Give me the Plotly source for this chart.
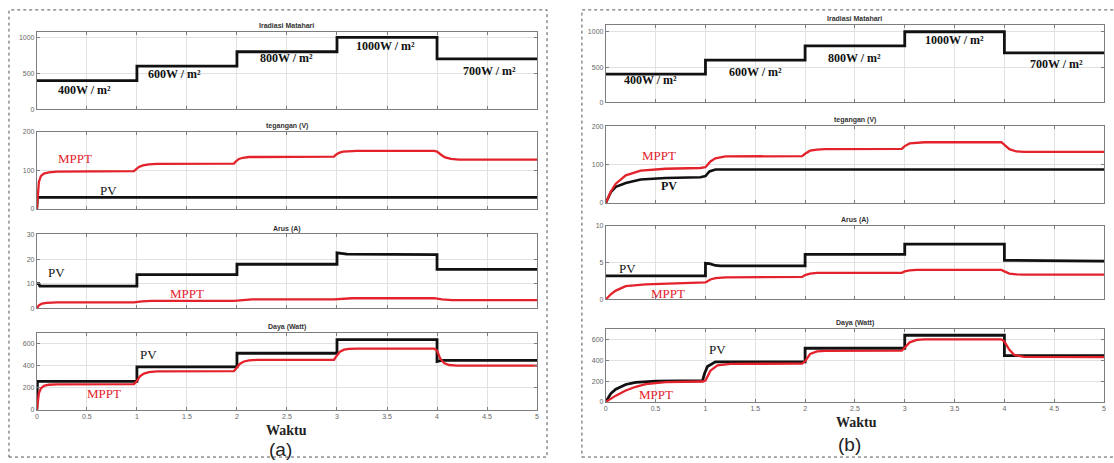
import plotly.graph_objects as go

W, H = 1114, 463

# ---------------- data ----------------
# Irradiance (same in both panels)
t_irr = [0, 1, 1, 2, 2, 3, 3, 4, 4, 5]
irr = [400, 400, 600, 600, 800, 800, 1000, 1000, 700, 700]
irr_labels = ["400W / m²", "600W / m²", "800W / m²", "1000W / m²", "700W / m²"]

# Panel (a)
a_v_mppt_t = [0, 0.01, 0.02, 0.04, 0.07, 0.12, 0.2, 0.97, 0.99, 1.02, 1.06, 1.12, 1.2,
              1.97, 1.99, 2.02, 2.06, 2.12, 2.2, 2.97, 2.99, 3.02, 3.06, 3.12, 3.2,
              3.97, 4.0, 4.04, 4.08, 4.14, 4.22, 5.0]
a_v_mppt = [0, 40, 70, 85, 92, 95, 97, 98, 103, 109, 113, 116, 117,
            118, 124, 130, 133, 135, 135, 136, 141, 146, 149, 150, 151,
            151, 149, 141, 134, 130, 128, 128]
a_v_pv_t = [0, 0.005, 5.0]
a_v_pv = [0, 30, 30]

a_i_pv_t = [0, 0.02, 0.03, 1, 1, 2, 2, 3, 3, 3.1, 4, 4, 5]
a_i_pv = [10, 10, 9, 9, 13.7, 13.7, 17.9, 17.9, 22.5, 22, 21.8, 15.8, 15.8]
a_i_mppt_t = [0, 0.02, 0.05, 0.1, 0.2, 0.97, 1.05, 1.15, 1.97, 2.05, 2.15, 2.97, 3.05,
              3.15, 3.97, 4.05, 4.15, 5.0]
a_i_mppt = [0, 1.2, 1.9, 2.2, 2.4, 2.4, 2.8, 3.0, 3.0, 3.4, 3.6, 3.6, 3.9,
            4.1, 4.1, 3.6, 3.3, 3.3]

a_p_pv_t = [0, 0.005, 1, 1, 2, 2, 3, 3, 4, 4, 4.05, 5]
a_p_pv = [0, 258, 258, 390, 390, 515, 515, 640, 640, 440, 450, 450]
a_p_mppt_t = [0, 0.01, 0.02, 0.04, 0.07, 0.12, 0.2, 0.97, 1.0, 1.03, 1.07, 1.12, 1.2,
              1.97, 2.0, 2.03, 2.07, 2.12, 2.2, 2.97, 3.0, 3.03, 3.07, 3.12, 3.2,
              3.97, 4.0, 4.03, 4.07, 4.12, 4.2, 5.0]
a_p_mppt = [0, 90, 150, 195, 218, 228, 232, 234, 262, 305, 330, 343, 350,
            352, 385, 420, 440, 450, 455, 456, 495, 530, 548, 555, 557,
            557, 540, 470, 425, 408, 402, 402]

# Panel (b)
b_v_mppt_t = [0, 0.05, 0.1, 0.2, 0.35, 0.6, 0.95, 1.0, 1.05, 1.1, 1.2, 1.97, 2.0, 2.05,
              2.12, 2.2, 2.97, 3.0, 3.05, 3.12, 3.2, 3.97, 4.0, 4.05, 4.12, 4.2, 5.0]
b_v_mppt = [0, 30, 50, 72, 84, 89, 91, 93, 108, 116, 121, 122, 128, 136,
            139, 140, 141, 148, 155, 157, 158, 158, 152, 140, 134, 133, 133]
b_v_pv_t = [0, 0.05, 0.1, 0.2, 0.35, 0.6, 0.95, 1.0, 1.04, 1.1, 5.0]
b_v_pv = [0, 28, 42, 52, 61, 65, 67, 70, 82, 87, 87]

b_i_pv_t = [0, 1, 1, 1.04, 1.1, 1.15, 2, 2, 3, 3, 4, 4, 5]
b_i_pv = [3.2, 3.2, 4.9, 4.85, 4.6, 4.55, 4.55, 6.1, 6.1, 7.5, 7.5, 5.3, 5.2]
b_i_mppt_t = [0, 0.05, 0.1, 0.2, 0.4, 0.95, 1.0, 1.05, 1.1, 1.2, 1.97, 2.0, 2.05, 2.12,
              2.97, 3.0, 3.05, 3.12, 3.97, 4.0, 4.05, 4.12, 4.2, 5.0]
b_i_mppt = [0, 0.7, 1.2, 1.8, 2.05, 2.2, 2.3, 2.7, 2.9, 3.0, 3.05, 3.3, 3.5, 3.6,
            3.6, 3.8, 3.95, 4.0, 4.0, 3.8, 3.5, 3.4, 3.35, 3.35]

b_p_pv_t = [0, 0.05, 0.1, 0.2, 0.3, 0.5, 0.97, 0.99, 1.02, 1.1, 2, 2, 3, 3, 4, 4, 4.05, 5]
b_p_pv = [0, 80, 121, 167, 188, 200, 203, 270, 340, 385, 385, 515, 515, 640, 640, 445, 445, 445]
b_p_mppt_t = [0, 0.1, 0.2, 0.3, 0.4, 0.6, 0.97, 1.0, 1.05, 1.12, 1.25, 1.97, 2.0, 2.05,
              2.12, 2.2, 2.97, 3.0, 3.05, 3.12, 3.2, 3.97, 4.0, 4.05, 4.1, 4.2, 5.0]
b_p_mppt = [0, 60, 110, 145, 170, 190, 196, 205, 300, 350, 365, 368, 390, 460,
            485, 490, 492, 520, 572, 595, 600, 600, 580, 500, 450, 432, 430]

# ---------------- layout geometry (pixels) ----------------
panels = {
    "a": dict(x=(35, 537), rows=[(28, 107), (130, 208), (234, 309), (334, 412)]),
    "b": dict(x=(606, 1106), rows=[(21, 100), (124, 202), (225, 300), (330, 404)]),
}
yranges = {
    "a": [[0, 1080], [0, 200], [0, 30], [0, 700]],
    "b": [[0, 1100], [0, 200], [0, 10], [0, 700]],
}
ytickvals = {
    "a": [[0, 500, 1000], [0, 100, 200], [0, 10, 20, 30], [0, 200, 400, 600]],
    "b": [[0, 500, 1000], [0, 100, 200], [0, 5, 10], [0, 200, 400, 600]],
}
titles = ["Iradiasi Matahari", "tegangan (V)", "Arus (A)", "Daya (Watt)"]
xticks = [0, 0.5, 1, 1.5, 2, 2.5, 3, 3.5, 4, 4.5, 5]
xticktext = ["0", "0.5", "1", "1.5", "2", "2.5", "3", "3.5", "4", "4.5", "5"]

RED = "#e3222b"
BLACK = "#111111"
AX = "#7d7d7d"
GRID = "#e1e1e1"

fig = go.Figure()
layout = dict(width=W, height=H, autosize=False, margin=dict(l=0, r=0, t=0, b=0),
              paper_bgcolor="white", plot_bgcolor="white", showlegend=False)
annotations = []
shapes = []

series = {
    "a": [
        [(t_irr, irr, BLACK, 2.8)],
        [(a_v_pv_t, a_v_pv, BLACK, 2.6), (a_v_mppt_t, a_v_mppt, RED, 2.3)],
        [(a_i_pv_t, a_i_pv, BLACK, 2.8), (a_i_mppt_t, a_i_mppt, RED, 2.3)],
        [(a_p_pv_t, a_p_pv, BLACK, 2.8), (a_p_mppt_t, a_p_mppt, RED, 2.3)],
    ],
    "b": [
        [(t_irr, irr, BLACK, 2.8)],
        [(b_v_pv_t, b_v_pv, BLACK, 2.6), (b_v_mppt_t, b_v_mppt, RED, 2.3)],
        [(b_i_pv_t, b_i_pv, BLACK, 2.8), (b_i_mppt_t, b_i_mppt, RED, 2.3)],
        [(b_p_pv_t, b_p_pv, BLACK, 2.8), (b_p_mppt_t, b_p_mppt, RED, 2.3)],
    ],
}

# label positions (data coords); last flag = bold
labels = {
    "a": [
        [(0.48, 265, irr_labels[0], BLACK, True), (1.38, 495, irr_labels[1], BLACK, True),
         (2.5, 715, irr_labels[2], BLACK, True), (3.48, 885, irr_labels[3], BLACK, True),
         (4.52, 535, irr_labels[4], BLACK, True)],
        [(0.38, 130, "MPPT", RED, False), (0.72, 48, "PV", BLACK, False)],
        [(0.2, 14.5, "PV", BLACK, False), (1.5, 6.2, "MPPT", RED, False)],
        [(1.12, 500, "PV", BLACK, False), (0.67, 150, "MPPT", RED, False)],
    ],
    "b": [
        [(0.45, 320, irr_labels[0], BLACK, True), (1.5, 430, irr_labels[1], BLACK, True),
         (2.5, 625, irr_labels[2], BLACK, True), (3.5, 880, irr_labels[3], BLACK, True),
         (4.52, 540, irr_labels[4], BLACK, True)],
        [(0.53, 124, "MPPT", RED, False), (0.63, 44, "PV", BLACK, True)],
        [(0.22, 4.2, "PV", BLACK, False), (0.62, 0.8, "MPPT", RED, False)],
        [(1.12, 505, "PV", BLACK, False), (0.5, 75, "MPPT", RED, False)],
    ],
}

k = 0
for p in ["a", "b"]:
    xl, xr = panels[p]["x"]
    for r in range(4):
        k += 1
        top, bot = panels[p]["rows"][r]
        xname = "xaxis" if k == 1 else f"xaxis{k}"
        yname = "yaxis" if k == 1 else f"yaxis{k}"
        xref = "x" if k == 1 else f"x{k}"
        yref = "y" if k == 1 else f"y{k}"
        layout[xname] = dict(
            domain=[xl / W, xr / W], anchor=yref, range=[0, 5],
            tickvals=xticks, ticktext=xticktext, showticklabels=(r == 3),
            ticks="inside", ticklen=3, tickcolor=AX, showline=True, linecolor=AX,
            linewidth=1, mirror="ticks", showgrid=True, gridcolor=GRID, gridwidth=1,
            zeroline=False, tickfont=dict(family="Liberation Sans", size=7, color="#666"),
            fixedrange=True)
        layout[yname] = dict(
            domain=[1 - bot / H, 1 - top / H], anchor=xref, range=yranges[p][r],
            tickvals=ytickvals[p][r], ticks="inside", ticklen=3, tickcolor=AX,
            showline=True, linecolor=AX, linewidth=1, mirror="ticks", showgrid=True,
            gridcolor=GRID, gridwidth=1, zeroline=False,
            tickfont=dict(family="Liberation Sans", size=7, color="#666"), fixedrange=True)
        for (tx, ty, col, lw) in series[p][r]:
            fig.add_trace(go.Scatter(x=tx, y=ty, mode="lines", xaxis=xref, yaxis=yref,
                                     line=dict(color=col, width=lw), hoverinfo="skip"))
        # subplot title
        annotations.append(dict(text=titles[r], xref="paper", yref="paper",
                                x=(xl + xr) / 2 / W, y=1 - (top - 6) / H, showarrow=False,
                                font=dict(family="Liberation Sans", size=7, color="#333",
                                          weight="bold"),
                                xanchor="center", yanchor="middle"))
        for (lx, ly, txt, col, bold) in labels[p][r]:
            annotations.append(dict(text=txt, x=lx, y=ly, xref=xref, yref=yref,
                                    showarrow=False,
                                    font=dict(family="Liberation Serif",
                                              size=12 if bold else 13, color=col,
                                              weight="bold" if bold else "normal"),
                                    xanchor="center", yanchor="middle"))

# x axis names and panel captions
for (cx, wy) in [(286, 433), (858, 425)]:
    annotations.append(dict(text="Waktu", xref="paper", yref="paper", x=cx / W,
                            y=1 - wy / H, showarrow=False,
                            font=dict(family="Liberation Serif", size=14, color="#222",
                                      weight="bold"),
                            xanchor="center", yanchor="middle"))
for (cx, cy, cap) in [(280, 452, "(a)"), (851, 447, "(b)")]:
    annotations.append(dict(text=cap, xref="paper", yref="paper", x=cx / W, y=1 - cy / H,
                            showarrow=False,
                            font=dict(family="Liberation Sans", size=19, color="#222"),
                            xanchor="center", yanchor="middle"))

# dotted frames around both panels
for (x0, x1) in [(7, 547), (582, 1118)]:
    shapes.append(dict(type="rect", xref="paper", yref="paper", x0=x0 / W, x1=x1 / W,
                       y0=1 - 460 / H, y1=1 - 6 / H,
                       line=dict(color="#555", width=1, dash="dot")))

layout["annotations"] = annotations
layout["shapes"] = shapes
fig.update_layout(**layout)
fig.write_html("out.html")
